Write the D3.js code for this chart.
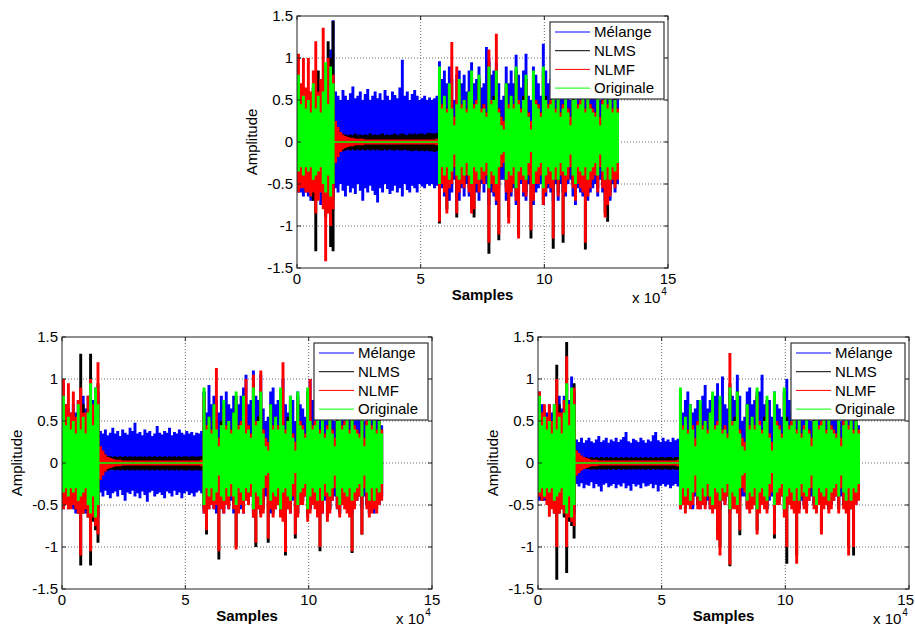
<!DOCTYPE html>
<html><head><meta charset="utf-8">
<script src="https://cdn.jsdelivr.net/npm/d3@7"></script>
<style>
body{margin:0;background:#fff}
svg{display:block}
text{font-family:"Liberation Sans",Arial,Helvetica,sans-serif;fill:#000}
</style>
</head><body>
<svg id="chart" width="915" height="629"></svg>
<script>
// ---------------- DATA ----------------
// Each array holds the upper (Hi) or lower (Lo) amplitude peak of one signal
// for consecutive blocks of `binSize` samples (130 blocks = 0 .. 13x10^4 samples).
const binSize = 1000;
const xDomain = [0, 150000];
const yDomain = [-1.5, 1.5];
const xTickValues = [0, 5, 10, 15];          // in units of 10^4 samples
const yTickValues = [-1.5, -1, -0.5, 0, 0.5, 1, 1.5];
const xGridValues = [5, 10];
const yGridValues = [-1, -0.5, 0, 0.5, 1];
const seriesNames = ["Mélange", "NLMS", "NLMF", "Originale"];
const seriesColors = ["#0000ff", "#000000", "#ff0000", "#00ff00"];

// Originale (clean signal, same in the three experiments)
const origHi = [.8,.45,.55,.4,.5,.35,.7,.4,.55,.35,
 .6,.95,.45,.9,.7,.01,.01,.01,.01,.01,
 .01,.01,.01,.01,.01,.01,.01,.01,.01,.01,
 .01,.01,.01,.01,.01,.01,.01,.01,.01,.01,
 .01,.01,.01,.01,.01,.01,.01,.01,.01,.01,
 .01,.01,.01,.01,.01,.01,.01,.9,.4,.55,
 .35,.7,.4,.2,.45,.75,.4,.5,.35,.6,
 .85,.4,.45,.8,.35,.4,.3,.9,.45,.5,
 .85,.35,.2,.15,.7,.4,.55,.4,.9,.45,
 .35,.5,.8,.3,.15,.85,.45,.4,.3,.9,
 .5,.4,.45,.75,.35,.8,.3,.4,.65,.35,
 .2,.5,.85,.4,.45,.7,.35,.8,.4,.35,
 .3,.7,.2,.45,.75,.4,.8,.35,.5,.35];
const origLo = [-.35,-.3,-.4,-.3,-.35,-.3,-.45,-.4,-.35,-.3,
 -.5,-.6,-.4,-.65,-.5,-.01,-.01,-.01,-.01,-.01,
 -.01,-.01,-.01,-.01,-.01,-.01,-.01,-.01,-.01,-.01,
 -.01,-.01,-.01,-.01,-.01,-.01,-.01,-.01,-.01,-.01,
 -.01,-.01,-.01,-.01,-.01,-.01,-.01,-.01,-.01,-.01,
 -.01,-.01,-.01,-.01,-.01,-.01,-.01,-.5,-.3,-.4,
 -.3,-.45,-.35,-.15,-.4,-.45,-.3,-.4,-.25,-.4,
 -.5,-.3,-.35,-.45,-.3,-.35,-.25,-.55,-.35,-.4,
 -.5,-.3,-.15,-.12,-.45,-.35,-.4,-.3,-.55,-.35,
 -.3,-.4,-.45,-.25,-.12,-.5,-.35,-.3,-.25,-.55,
 -.4,-.3,-.35,-.45,-.3,-.45,-.25,-.35,-.4,-.3,
 -.15,-.4,-.5,-.3,-.35,-.4,-.3,-.45,-.35,-.3,
 -.25,-.4,-.15,-.35,-.45,-.3,-.45,-.3,-.35,-.25];

// ---- Top panel ----
const topMixHi = [.7,.6,.65,.55,.6,.5,.65,.6,.7,.55,
 .7,.75,.65,1.1,1.45,.6,.55,.5,.62,.55,
 .5,.58,.66,.52,.55,.6,.5,.57,.63,.5,
 .55,.6,.52,.58,.5,.62,.55,.5,.6,.56,
 .52,.65,.98,.55,.6,.5,.57,.62,.55,.5,
 .52,.55,.5,.53,.5,.52,.55,.96,.75,.85,
 .7,.9,.75,.5,.8,.85,.7,.8,.6,.85,
 .95,.7,.75,.9,.65,.7,1.13,1.0,.8,.85,
 .95,.7,.5,.55,.9,.7,.85,.7,1.04,.8,
 .65,.85,1.05,.55,.5,.9,.8,.7,.55,1.17,
 .85,.7,.75,.9,.65,.95,.55,.7,.85,.6,
 .5,.8,.95,.7,.75,.85,.6,.9,.7,.65,
 .55,.85,.5,.75,.9,.7,.9,.65,.75,.55];
const topMixLo = [-.6,-.6,-.65,-.6,-.65,-.7,-.7,-.65,-.6,-.75,
 -.7,-.75,-.65,-.8,-.7,-.55,-.6,-.5,-.58,-.65,
 -.52,-.6,-.55,-.62,-.5,-.58,-.7,-.55,-.6,-.52,
 -.58,-.63,-.72,-.55,-.6,-.5,-.56,-.62,-.58,-.52,
 -.6,-.55,-.65,-.5,-.57,-.6,-.52,-.55,-.6,-.5,
 -.53,-.55,-.5,-.52,-.5,-.55,-.52,-.7,-.55,-.65,
 -.5,-.7,-.6,-.45,-.65,-.7,-.55,-.65,-.5,-.65,
 -.75,-.55,-.6,-.7,-.5,-.6,-.5,-.75,-.6,-.65,
 -.75,-.55,-.45,-.45,-.7,-.6,-.65,-.55,-.75,-.6,
 -.5,-.65,-.7,-.5,-.45,-.75,-.6,-.55,-.5,-.75,
 -.65,-.55,-.6,-.7,-.5,-.7,-.5,-.6,-.65,-.5,
 -.45,-.65,-.75,-.55,-.6,-.65,-.5,-.7,-.6,-.55,
 -.5,-.65,-.45,-.6,-.7,-.55,-.7,-.5,-.6,-.5];
const topNlmsHi = [.7,.65,.6,.55,.6,.5,.65,.6,.85,.55,
 .7,.9,1.2,1.0,1.44,.25,.15,.12,.1,.09,
 .08,.09,.08,.1,.08,.09,.08,.09,.08,.1,
 .08,.09,.08,.09,.1,.08,.09,.08,.09,.1,
 .08,.09,.1,.09,.08,.1,.09,.1,.09,.1,
 .1,.09,.1,.11,.1,.1,.11,.85,.45,.55,
 .4,.65,.45,.3,.5,.7,.45,.5,.4,.6,
 .8,.45,.5,.75,.4,.45,.35,.95,.5,.55,
 .85,.4,.3,.25,.7,.45,.55,.45,.85,.5,
 .4,.55,.75,.35,.25,.8,.5,.45,.35,.85,
 .55,.45,.5,.7,.4,.75,.35,.45,.65,.4,
 .3,.55,.8,.45,.5,.65,.4,.75,.45,.4,
 .35,.65,.3,.5,.7,.45,.75,.4,.55,.4];
const topNlmsLo = [-.45,-.5,-.5,-.45,-.5,-.55,-.7,-1.3,-.6,-.55,
 -.7,-.9,-.8,-1.25,-1.3,-.25,-.16,-.12,-.11,-.1,
 -.09,-.1,-.09,-.1,-.09,-.1,-.09,-.1,-.09,-.1,
 -.09,-.1,-.09,-.1,-.1,-.09,-.1,-.09,-.1,-.1,
 -.09,-.1,-.1,-.09,-.1,-.1,-.11,-.1,-.1,-.11,
 -.1,-.11,-.1,-.11,-.11,-.12,-.11,-.97,-.45,-.55,
 -.8,-.5,-.45,-.3,-.9,-.55,-.45,-.5,-.4,-.55,
 -.8,-.9,-.45,-.55,-.4,-.45,-.35,-1.33,-.45,-.55,
 -.65,-1.17,-.3,-.25,-.55,-.9,-.55,-.45,-.65,-1.1,
 -.4,-.55,-.6,-.35,-1.15,-.65,-.45,-.45,-.35,-.7,
 -.55,-.45,-.5,-1.27,-.4,-.6,-.35,-1.2,-.55,-.4,
 -.3,-.5,-.65,-.45,-.5,-.55,-1.28,-.6,-.5,-.4,
 -.35,-.55,-.3,-.5,-.85,-.95,-.6,-.4,-.5,-.4];
const topNlmfHi = [1.05,.7,1.0,.65,1.0,.6,.85,1.2,.6,.75,
 1.36,.7,1.0,.65,.8,.25,.18,.12,.09,.07,
 .06,.05,.05,.04,.04,.04,.04,.03,.03,.03,
 .03,.03,.03,.03,.03,.03,.03,.03,.03,.03,
 .03,.03,.03,.03,.03,.03,.03,.03,.03,.03,
 .03,.03,.03,.03,.03,.03,.04,.8,.45,.5,
 .4,.65,1.19,.3,.9,.65,.45,.5,.4,.55,
 .75,.45,.5,.7,.4,.45,.35,1.1,.5,.5,
 1.29,.4,.3,.25,.65,.45,.5,.45,.8,.5,
 .4,.5,.7,.35,.25,.75,.5,.45,.35,.8,
 .5,.45,.5,.65,.4,.7,.35,.45,.6,.4,
 .3,.5,.75,.45,.5,.6,.4,.7,.45,.4,
 .35,.6,.3,.5,.65,.45,.7,.4,.5,.4];
const topNlmfLo = [-.6,-.55,-.55,-.6,-.6,-.65,-.6,-.85,-.7,-.6,
 -.8,-1.42,-.85,-1.0,-.8,-.25,-.18,-.12,-.09,-.07,
 -.06,-.05,-.05,-.04,-.04,-.04,-.04,-.03,-.03,-.03,
 -.03,-.03,-.03,-.03,-.03,-.03,-.03,-.03,-.03,-.03,
 -.03,-.03,-.03,-.03,-.03,-.03,-.03,-.03,-.03,-.03,
 -.03,-.03,-.03,-.03,-.03,-.03,-.04,-.95,-.5,-.6,
 -.85,-.55,-.5,-.3,-.85,-.6,-.5,-.55,-.4,-.6,
 -.85,-.8,-.5,-.6,-.45,-.5,-.4,-1.2,-.5,-.6,
 -.7,-1.1,-.3,-.25,-.6,-.97,-.6,-.5,-.7,-1.15,
 -.45,-.6,-.65,-.4,-1.05,-.7,-.5,-.5,-.4,-.75,
 -.6,-.5,-.55,-1.15,-.45,-.65,-.4,-1.1,-.6,-.45,
 -.3,-.55,-.7,-.5,-.55,-.6,-1.2,-.65,-.55,-.45,
 -.4,-.6,-.3,-.55,-.9,-.75,-.65,-.45,-.55,-.45];

// ---- Bottom-left panel ----
const blMixHi = [.95,.7,.65,.6,.7,.6,.75,.7,.8,.65,
 .8,1.0,.75,.9,.85,.38,.35,.4,.33,.36,
 .42,.35,.38,.32,.4,.36,.34,.42,.38,.48,
 .35,.37,.33,.4,.36,.38,.32,.35,.44,.36,
 .34,.38,.36,.42,.33,.37,.35,.4,.36,.34,
 .38,.35,.37,.33,.36,.35,.38,.85,.6,.93,
 .7,.8,.75,.6,.8,.7,.85,.7,.65,.8,
 .75,.7,.8,.9,1.05,.7,.75,1.1,.8,.75,
 1.05,.65,.5,.55,.85,.9,.7,.75,.8,1.0,
 .7,.6,.8,.75,.5,.85,.7,.65,.55,.85,
 1.0,.75,.6,.8,.7,.85,.6,.7,.9,.55,
 .5,.75,.85,.7,.65,.8,.6,.85,.7,.6,
 .55,.8,.5,.7,.85,.65,.8,.6,.7,.45];
const blMixLo = [-.55,-.5,-.55,-.5,-.55,-.6,-.6,-.55,-.5,-.6,
 -.6,-.65,-.6,-.7,-.65,-.35,-.4,-.33,-.38,-.42,
 -.36,-.34,-.4,-.32,-.38,-.45,-.35,-.37,-.33,-.4,
 -.36,-.42,-.34,-.38,-.46,-.35,-.33,-.4,-.37,-.35,
 -.38,-.42,-.34,-.36,-.4,-.33,-.38,-.35,-.42,-.36,
 -.34,-.38,-.36,-.4,-.35,-.33,-.36,-.6,-.5,-.55,
 -.45,-.55,-.6,-.4,-.55,-.6,-.5,-.55,-.45,-.6,
 -.6,-.5,-.55,-.6,-.45,-.5,-.4,-.65,-.5,-.55,
 -.6,-.45,-.4,-.4,-.6,-.5,-.55,-.45,-.6,-.5,
 -.45,-.55,-.6,-.45,-.4,-.6,-.5,-.45,-.4,-.6,
 -.55,-.45,-.5,-.6,-.45,-.6,-.45,-.5,-.55,-.45,
 -.4,-.55,-.6,-.45,-.5,-.55,-.45,-.6,-.5,-.45,
 -.4,-.55,-.4,-.5,-.6,-.45,-.6,-.45,-.5,-.4];
const blNlmsHi = [.7,.6,.55,.5,.6,.5,.6,1.3,.7,.55,
 .65,1.3,.6,.85,.95,.2,.12,.1,.08,.08,
 .07,.08,.07,.08,.07,.08,.07,.08,.07,.08,
 .07,.08,.07,.08,.07,.08,.07,.08,.07,.08,
 .07,.08,.07,.08,.07,.08,.07,.08,.07,.08,
 .08,.07,.08,.08,.07,.08,.08,.85,.45,.55,
 .4,.65,.45,.3,.5,.7,.45,.5,.4,.6,
 .8,.45,.5,.75,.4,.45,.35,.95,.5,.55,
 .85,.4,.3,.25,.7,.45,.55,.45,.85,.5,
 .4,.55,.75,.35,.25,.8,.5,.45,.35,.85,
 .55,.45,.5,.7,.4,.75,.35,.45,.65,.4,
 .3,.55,.8,.45,.5,.65,.4,.75,.45,.4,
 .35,.65,.3,.5,.7,.45,.75,.4,.55,.4];
const blNlmsLo = [-.45,-.5,-.5,-.45,-.5,-.55,-.6,-1.22,-.6,-.55,
 -.65,-1.22,-.7,-.8,-.95,-.2,-.12,-.1,-.09,-.08,
 -.08,-.09,-.08,-.09,-.08,-.09,-.08,-.09,-.08,-.09,
 -.08,-.09,-.08,-.09,-.08,-.09,-.08,-.09,-.08,-.09,
 -.08,-.09,-.08,-.09,-.08,-.09,-.08,-.09,-.08,-.09,
 -.09,-.08,-.09,-.09,-.08,-.09,-.09,-.55,-.85,-.5,
 -.45,-.5,-.45,-1.15,-.5,-.55,-.45,-.5,-.35,-.5,
 -1.0,-.55,-.45,-.55,-.4,-.45,-.35,-.6,-1.0,-.5,
 -.6,-.55,-.3,-.95,-.5,-.6,-.5,-.45,-.6,-.65,
 -1.1,-.5,-.55,-.35,-.9,-.6,-.45,-.45,-.35,-.65,
 -.55,-.45,-.5,-.6,-1.05,-.55,-.35,-.65,-.55,-.4,
 -.3,-.5,-.6,-.45,-.5,-.55,-.6,-1.07,-.5,-.4,
 -.35,-.85,-.3,-.5,-.6,-.55,-.5,-.55,-.45,-.4];
const blNlmfHi = [1.0,.7,.95,.6,.85,.55,.75,.9,.6,.6,
 .8,1.0,.7,.8,1.2,.2,.15,.1,.07,.06,
 .05,.04,.04,.04,.03,.03,.03,.03,.03,.03,
 .03,.03,.03,.03,.03,.03,.03,.03,.03,.03,
 .03,.03,.03,.03,.03,.03,.03,.03,.03,.03,
 .03,.03,.03,.03,.03,.03,.04,.8,.45,.5,
 .4,.65,1.13,.3,.45,.65,.45,.5,.4,.55,
 .75,.45,.5,.7,1.0,.45,.35,1.05,.5,.5,
 1.1,.4,.3,.25,.65,.45,.5,.45,.8,1.2,
 .4,.5,.7,.35,.25,.75,.5,.45,.35,.8,
 1.0,.45,.5,.65,.4,.7,.35,.45,.85,.4,
 .3,.5,.75,.45,.5,.6,.4,.7,.45,.4,
 .35,.6,.3,.5,.65,.45,.7,.4,.5,.4];
const blNlmfLo = [-.55,-.5,-.55,-.55,-.5,-.55,-.6,-1.1,-.6,-.55,
 -.65,-1.05,-.65,-.75,-.85,-.2,-.15,-.1,-.07,-.06,
 -.05,-.04,-.04,-.04,-.03,-.03,-.03,-.03,-.03,-.03,
 -.03,-.03,-.03,-.03,-.03,-.03,-.03,-.03,-.03,-.03,
 -.03,-.03,-.03,-.03,-.03,-.03,-.03,-.03,-.03,-.03,
 -.03,-.03,-.03,-.03,-.03,-.03,-.04,-.6,-.8,-.55,
 -.5,-.55,-.5,-1.05,-.55,-.6,-.5,-.55,-.4,-.55,
 -1.03,-.6,-.5,-.6,-.45,-.5,-.4,-.65,-.95,-.55,
 -.65,-.6,-.3,-.9,-.55,-.65,-.55,-.5,-.65,-.7,
 -1.06,-.55,-.6,-.4,-.85,-.65,-.5,-.5,-.4,-.7,
 -.6,-.5,-.55,-.65,-1.0,-.6,-.4,-.7,-.6,-.45,
 -.3,-.55,-.65,-.5,-.55,-.6,-.65,-1.05,-.55,-.45,
 -.4,-.85,-.3,-.55,-.65,-.6,-.55,-.6,-.5,-.45];

// ---- Bottom-right panel ----
const brMixHi = [.85,.7,.65,.6,.7,.6,.7,.75,.8,.65,
 .8,.95,.75,1.03,.85,.28,.25,.3,.24,.27,
 .3,.26,.24,.28,.32,.25,.27,.3,.24,.28,
 .26,.3,.25,.28,.31,.37,.26,.24,.29,.27,
 .25,.3,.27,.24,.28,.26,.33,.37,.27,.25,
 .3,.26,.28,.25,.3,.27,.29,.8,.6,.75,
 .85,.7,.6,.65,.75,.7,.8,.93,.65,.75,
 .7,.8,.95,.75,1.03,.7,.65,.85,.8,.75,
 1.05,.8,.5,.55,.85,.9,.7,.75,.8,.85,
 1.05,.7,.6,.75,.55,.85,.7,.65,.55,.85,
 1.0,.75,.6,.8,.7,.85,.6,.7,.9,.55,
 .5,.9,.85,.7,.65,.8,.6,.85,.7,.6,
 .55,.8,.5,.7,.85,.65,.8,.6,.7,.45];
const brMixLo = [-.45,-.4,-.45,-.45,-.5,-.5,-.55,-.55,-.5,-.5,
 -.55,-.6,-.55,-.6,-.6,-.25,-.28,-.24,-.3,-.26,
 -.27,-.23,-.3,-.25,-.28,-.34,-.26,-.24,-.29,-.27,
 -.25,-.3,-.26,-.28,-.24,-.3,-.27,-.33,-.25,-.28,
 -.26,-.3,-.24,-.28,-.27,-.25,-.3,-.26,-.34,-.27,
 -.25,-.28,-.26,-.3,-.27,-.25,-.28,-.55,-.45,-.5,
 -.45,-.5,-.55,-.4,-.5,-.55,-.45,-.5,-.45,-.55,
 -.55,-.45,-.5,-.55,-.45,-.5,-.4,-.6,-.45,-.5,
 -.55,-.45,-.4,-.4,-.55,-.5,-.5,-.45,-.55,-.5,
 -.45,-.5,-.55,-.45,-.4,-.55,-.5,-.45,-.4,-.55,
 -.55,-.45,-.5,-.55,-.45,-.55,-.45,-.5,-.55,-.45,
 -.4,-.5,-.55,-.45,-.5,-.5,-.45,-.55,-.5,-.45,
 -.4,-.5,-.4,-.5,-.55,-.45,-.55,-.45,-.5,-.4];
const brNlmsHi = [.7,.6,.55,.5,.6,.5,.6,1.17,.7,.55,
 .65,1.44,.6,.8,.95,.15,.1,.08,.07,.07,
 .06,.07,.06,.07,.06,.07,.06,.07,.06,.07,
 .06,.07,.06,.07,.06,.07,.06,.07,.06,.07,
 .06,.07,.06,.07,.06,.07,.06,.07,.06,.07,
 .07,.06,.07,.07,.06,.07,.07,.85,.45,.55,
 .4,.65,.45,.3,.5,.7,.45,.5,.4,.6,
 .8,.45,.5,.75,.4,.45,.35,.95,.5,.55,
 .85,.4,.3,.25,.7,.45,.55,.45,.85,.5,
 .4,.55,.75,.35,.25,.8,.5,.45,.35,.85,
 .55,.45,.5,.7,.4,.75,.35,.45,.65,.4,
 .3,.55,.8,.45,.5,.65,.4,.75,.45,.4,
 .35,.65,.3,.5,.7,.45,.75,.4,.55,.4];
const brNlmsLo = [-.4,-.45,-.4,-.45,-.5,-.5,-.6,-1.39,-.6,-.55,
 -.65,-1.31,-.7,-.75,-.9,-.15,-.1,-.08,-.07,-.07,
 -.07,-.08,-.07,-.08,-.07,-.08,-.07,-.08,-.07,-.08,
 -.07,-.08,-.07,-.08,-.07,-.08,-.07,-.08,-.07,-.08,
 -.07,-.08,-.07,-.08,-.07,-.08,-.07,-.08,-.07,-.08,
 -.08,-.07,-.08,-.08,-.07,-.08,-.08,-.5,-.45,-.55,
 -.45,-.5,-.45,-.3,-.5,-.5,-.45,-.5,-.35,-.5,
 -.55,-.5,-.85,-1.0,-.4,-.45,-.35,-1.23,-.5,-.5,
 -.55,-.86,-.3,-.3,-.5,-.55,-.5,-.45,-.8,-.55,
 -.45,-.5,-.55,-.35,-.3,-.9,-.45,-.45,-.35,-.6,
 -1.2,-.45,-.5,-.55,-1.1,-.55,-.35,-.5,-.55,-.4,
 -.3,-.5,-.55,-.45,-.8,-.5,-.45,-.55,-.5,-.4,
 -.35,-.55,-.3,-.5,-.55,-1.0,-.5,-1.1,-.45,-.4];
const brNlmfHi = [.85,.6,.7,.55,.7,.5,.65,1.0,.6,.6,
 .75,1.27,.7,.85,.9,.15,.12,.09,.07,.06,
 .05,.04,.04,.04,.03,.03,.03,.03,.03,.03,
 .03,.03,.03,.03,.03,.03,.03,.03,.03,.03,
 .03,.03,.03,.03,.03,.03,.03,.03,.03,.03,
 .03,.03,.03,.03,.03,.03,.04,.8,.45,.5,
 .4,.65,.45,.3,.5,.65,.45,.5,.4,.55,
 .75,.45,.5,.7,.4,.45,.35,1.31,.5,.5,
 .8,.4,.3,.25,.65,.45,.5,.45,.8,.5,
 .4,.5,.7,.35,.25,.75,.5,.45,.35,.8,
 .5,.45,.5,.65,.4,.7,.35,.45,.6,.4,
 .3,.5,.75,.45,.5,.6,.4,.7,.45,.4,
 .35,.6,.3,.5,.65,.45,.7,.4,.5,.4];
const brNlmfLo = [-.4,-.45,-.42,-.5,-.64,-.55,-.6,-1.0,-.6,-.55,
 -.6,-1.0,-.65,-.7,-.75,-.15,-.12,-.09,-.07,-.06,
 -.05,-.04,-.04,-.04,-.03,-.03,-.03,-.03,-.03,-.03,
 -.03,-.03,-.03,-.03,-.03,-.03,-.03,-.03,-.03,-.03,
 -.03,-.03,-.03,-.03,-.03,-.03,-.03,-.03,-.03,-.03,
 -.03,-.03,-.03,-.03,-.03,-.03,-.04,-.55,-.5,-.6,
 -.5,-.55,-.5,-.35,-.55,-.55,-.5,-.55,-.4,-.55,
 -.6,-.55,-.92,-1.1,-.45,-.5,-.4,-1.21,-.55,-.55,
 -.6,-.8,-.3,-.35,-.55,-.6,-.55,-.5,-.85,-.6,
 -.5,-.55,-.6,-.4,-.35,-.85,-.5,-.5,-.4,-.65,
 -1.0,-.5,-.55,-.6,-1.2,-.6,-.4,-.55,-.6,-.45,
 -.3,-.55,-.6,-.5,-.85,-.55,-.5,-.6,-.55,-.45,
 -.4,-.6,-.3,-.55,-.6,-1.1,-.55,-1.0,-.5,-.45];

// ---------------- LAYOUT ----------------
const panels = [
  {id:"top", left:297, right:668, top:16, bottom:268,
   series:[[topMixHi,topMixLo],[topNlmsHi,topNlmsLo],[topNlmfHi,topNlmfLo],[origHi,origLo]]},
  {id:"bl", left:62, right:432, top:337, bottom:589,
   series:[[blMixHi,blMixLo],[blNlmsHi,blNlmsLo],[blNlmfHi,blNlmfLo],[origHi,origLo]]},
  {id:"br", left:538, right:909, top:337, bottom:589,
   series:[[brMixHi,brMixLo],[brNlmsHi,brNlmsLo],[brNlmfHi,brNlmfLo],[origHi,origLo]]}
];

const W = 915;
const svg = d3.select("#chart");
const defs = svg.append("defs");
const FS = 15;

function keepInside(sel) {
  sel.each(function () {
    const b = this.getBBox();
    const over = b.x + b.width - (W - 1);
    if (over > 0) {
      const cur = +d3.select(this).attr("x");
      d3.select(this).attr("x", cur - over);
    }
  });
}

panels.forEach(p => {
  const x = d3.scaleLinear().domain(xDomain).range([p.left, p.right]);
  const y = d3.scaleLinear().domain(yDomain).range([p.bottom, p.top]);
  const g = svg.append("g");

  // grid (dotted)
  g.selectAll(".gx").data(xGridValues).join("line")
    .attr("x1", d => x(d * 1e4)).attr("x2", d => x(d * 1e4))
    .attr("y1", p.top).attr("y2", p.bottom)
    .attr("stroke", "#6a6a6a").attr("stroke-width", 1).attr("stroke-dasharray", "1,2");
  g.selectAll(".gy").data(yGridValues).join("line")
    .attr("x1", p.left).attr("x2", p.right)
    .attr("y1", d => y(d)).attr("y2", d => y(d))
    .attr("stroke", "#6a6a6a").attr("stroke-width", 1).attr("stroke-dasharray", "1,2");

  // clip
  defs.append("clipPath").attr("id", "clip-" + p.id).append("rect")
    .attr("x", p.left).attr("y", p.top).attr("width", p.right - p.left).attr("height", p.bottom - p.top);
  const dg = g.append("g").attr("clip-path", `url(#clip-${p.id})`);

  // signals: min/max envelope per block of samples
  p.series.forEach(([hi, lo], si) => {
    const path = d3.path();
    hi.forEach((h, i) => {
      const xa = x(i * binSize), xb = x((i + 1) * binSize) + 0.45;
      const ya = y(h), yb = y(lo[i]);
      path.rect(xa, ya, xb - xa, Math.max(1, yb - ya));
    });
    dg.append("path").attr("d", path.toString()).attr("fill", seriesColors[si]);
  });

  // box
  g.append("rect").attr("x", p.left).attr("y", p.top)
    .attr("width", p.right - p.left).attr("height", p.bottom - p.top)
    .attr("fill", "none").attr("stroke", "#222").attr("stroke-width", 1);

  // inward ticks on all sides
  const tl = 4;
  xTickValues.forEach(v => {
    const xv = x(v * 1e4);
    g.append("line").attr("x1", xv).attr("x2", xv).attr("y1", p.bottom).attr("y2", p.bottom - tl).attr("stroke", "#222");
    g.append("line").attr("x1", xv).attr("x2", xv).attr("y1", p.top).attr("y2", p.top + tl).attr("stroke", "#222");
  });
  yTickValues.forEach(v => {
    const yv = y(v);
    g.append("line").attr("x1", p.left).attr("x2", p.left + tl).attr("y1", yv).attr("y2", yv).attr("stroke", "#222");
    g.append("line").attr("x1", p.right).attr("x2", p.right - tl).attr("y1", yv).attr("y2", yv).attr("stroke", "#222");
  });

  // tick labels
  const xl = g.selectAll(".xl").data(xTickValues).join("text")
    .attr("x", d => x(d * 1e4)).attr("y", p.bottom + 16)
    .attr("text-anchor", "middle").attr("font-size", FS).text(d => String(d));
  keepInside(xl);
  g.selectAll(".yl").data(yTickValues).join("text")
    .attr("x", p.left - 4).attr("y", d => y(d)).attr("dy", "0.35em")
    .attr("text-anchor", "end").attr("font-size", FS).text(d => String(d));

  // axis labels
  g.append("text").attr("x", (p.left + p.right) / 2).attr("y", p.bottom + 32)
    .attr("text-anchor", "middle").attr("font-size", FS).attr("font-weight", "bold").text("Samples");
  g.append("text").attr("transform", `translate(${p.left - 40},${(p.top + p.bottom) / 2}) rotate(-90)`)
    .attr("text-anchor", "middle").attr("font-size", FS).text("Amplitude");
  const ex = g.append("text").attr("x", p.right - 36).attr("y", p.bottom + 35).attr("font-size", FS);
  ex.append("tspan").text("x 10");
  ex.append("tspan").attr("font-size", 10).attr("dy", -8).attr("dx", 1).text("4");
  keepInside(ex);

  // legend
  const lw = 114, lh = 77;
  const lx = p.right - 4 - lw, ly = p.top + 6;
  const lg = g.append("g");
  lg.append("rect").attr("x", lx).attr("y", ly).attr("width", lw).attr("height", lh)
    .attr("fill", "#fff").attr("stroke", "#333").attr("stroke-width", 1.2);
  seriesNames.forEach((n, i) => {
    const cy = ly + 10 + i * 18.7;
    lg.append("line").attr("x1", lx + 5).attr("x2", lx + 40).attr("y1", cy).attr("y2", cy)
      .attr("stroke", seriesColors[i]).attr("stroke-width", 1);
    lg.append("text").attr("x", lx + 44).attr("y", cy).attr("dy", "0.35em")
      .attr("font-size", FS).text(n);
  });
});

// sanity check of data lengths
const allArrays = {origHi, origLo, topMixHi, topMixLo, topNlmsHi, topNlmsLo, topNlmfHi, topNlmfLo,
  blMixHi, blMixLo, blNlmsHi, blNlmsLo, blNlmfHi, blNlmfLo, brMixHi, brMixLo, brNlmsHi, brNlmsLo, brNlmfHi, brNlmfLo};
const bad = Object.entries(allArrays).filter(([k, v]) => v.length !== 130).map(([k, v]) => k + ":" + v.length);
if (bad.length) throw new Error("Bad lengths " + bad.join(", "));
</script>
</body></html>
